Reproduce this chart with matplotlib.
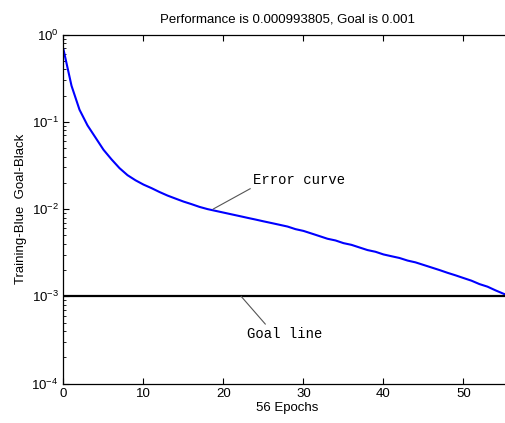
import matplotlib
matplotlib.use("Agg")
import matplotlib.pyplot as plt
import numpy as np

# Training record (one value per epoch, 0..56)
epochs = np.arange(0, 57)
performance = [
    0.676, 0.260, 0.138, 0.0912, 0.0661, 0.0479, 0.0372, 0.0295, 0.0245, 0.0214,
    0.0191, 0.0174, 0.0157, 0.0143, 0.0132, 0.0122, 0.0114, 0.0106, 0.0100, 0.00955,
    0.00912, 0.00871, 0.00832, 0.00794, 0.00759, 0.00724, 0.00692, 0.00661, 0.00631, 0.00589,
    0.00562, 0.00525, 0.00490, 0.00457, 0.00437, 0.00407, 0.00389, 0.00363, 0.00339, 0.00324,
    0.00302, 0.00288, 0.00275, 0.00257, 0.00245, 0.00229, 0.00214, 0.00200, 0.00186, 0.00174,
    0.00162, 0.00151, 0.00138, 0.00129, 0.00117, 0.00107, 0.000994,
]
goal = 0.001
title_text = "Performance is 0.000993805, Goal is 0.001"
x_ticks = [0, 10, 20, 30, 40, 50]

plt.rcParams['font.family'] = ['Liberation Sans', 'DejaVu Sans']
plt.rcParams['mathtext.fontset'] = 'custom'
plt.rcParams['mathtext.rm'] = 'Liberation Sans'

fig = plt.figure(figsize=(5.06, 4.23), dpi=100)
ax = fig.add_axes([63.5 / 506, 39.5 / 423, 448 / 506, 348.8 / 423])

ax.semilogy(epochs, performance, color='#0000ff', linewidth=1.5)
ax.axhline(goal, color='black', linewidth=1.6)

ax.set_xlim(0, 56)
ax.set_ylim(1e-4, 1)
ax.set_xticks(x_ticks)
ax.tick_params(which='both', direction='in', top=True, right=True, labelsize=9.5)
ax.tick_params(which='major', length=4, width=0.8)
ax.tick_params(which='minor', length=2.5, width=0.6)
for s in ax.spines.values():
    s.set_linewidth(0.9)

ax.set_title(title_text, fontsize=9.5, pad=9)
ax.set_xlabel("56 Epochs", fontsize=9.5, labelpad=1)
ax.set_ylabel("Training-Blue  Goal-Black", fontsize=9.5, labelpad=3)

# leader-line labels in typewriter font
ax.annotate("Error curve", xy=(18.7, 0.0100), xytext=(23.7, 0.0215),
            fontsize=10, family='Liberation Mono', ha='left', va='center',
            arrowprops=dict(arrowstyle='-', color='#555555', lw=0.8,
                            relpos=(0, 0), shrinkA=0, shrinkB=0))
ax.annotate("Goal line", xy=(22.2, goal), xytext=(22.9, 0.00037),
            fontsize=10, family='Liberation Mono', ha='left', va='center',
            arrowprops=dict(arrowstyle='-', color='#555555', lw=0.8,
                            relpos=(0.28, 1), shrinkA=0, shrinkB=0))

fig.savefig("out.png", dpi=100)
